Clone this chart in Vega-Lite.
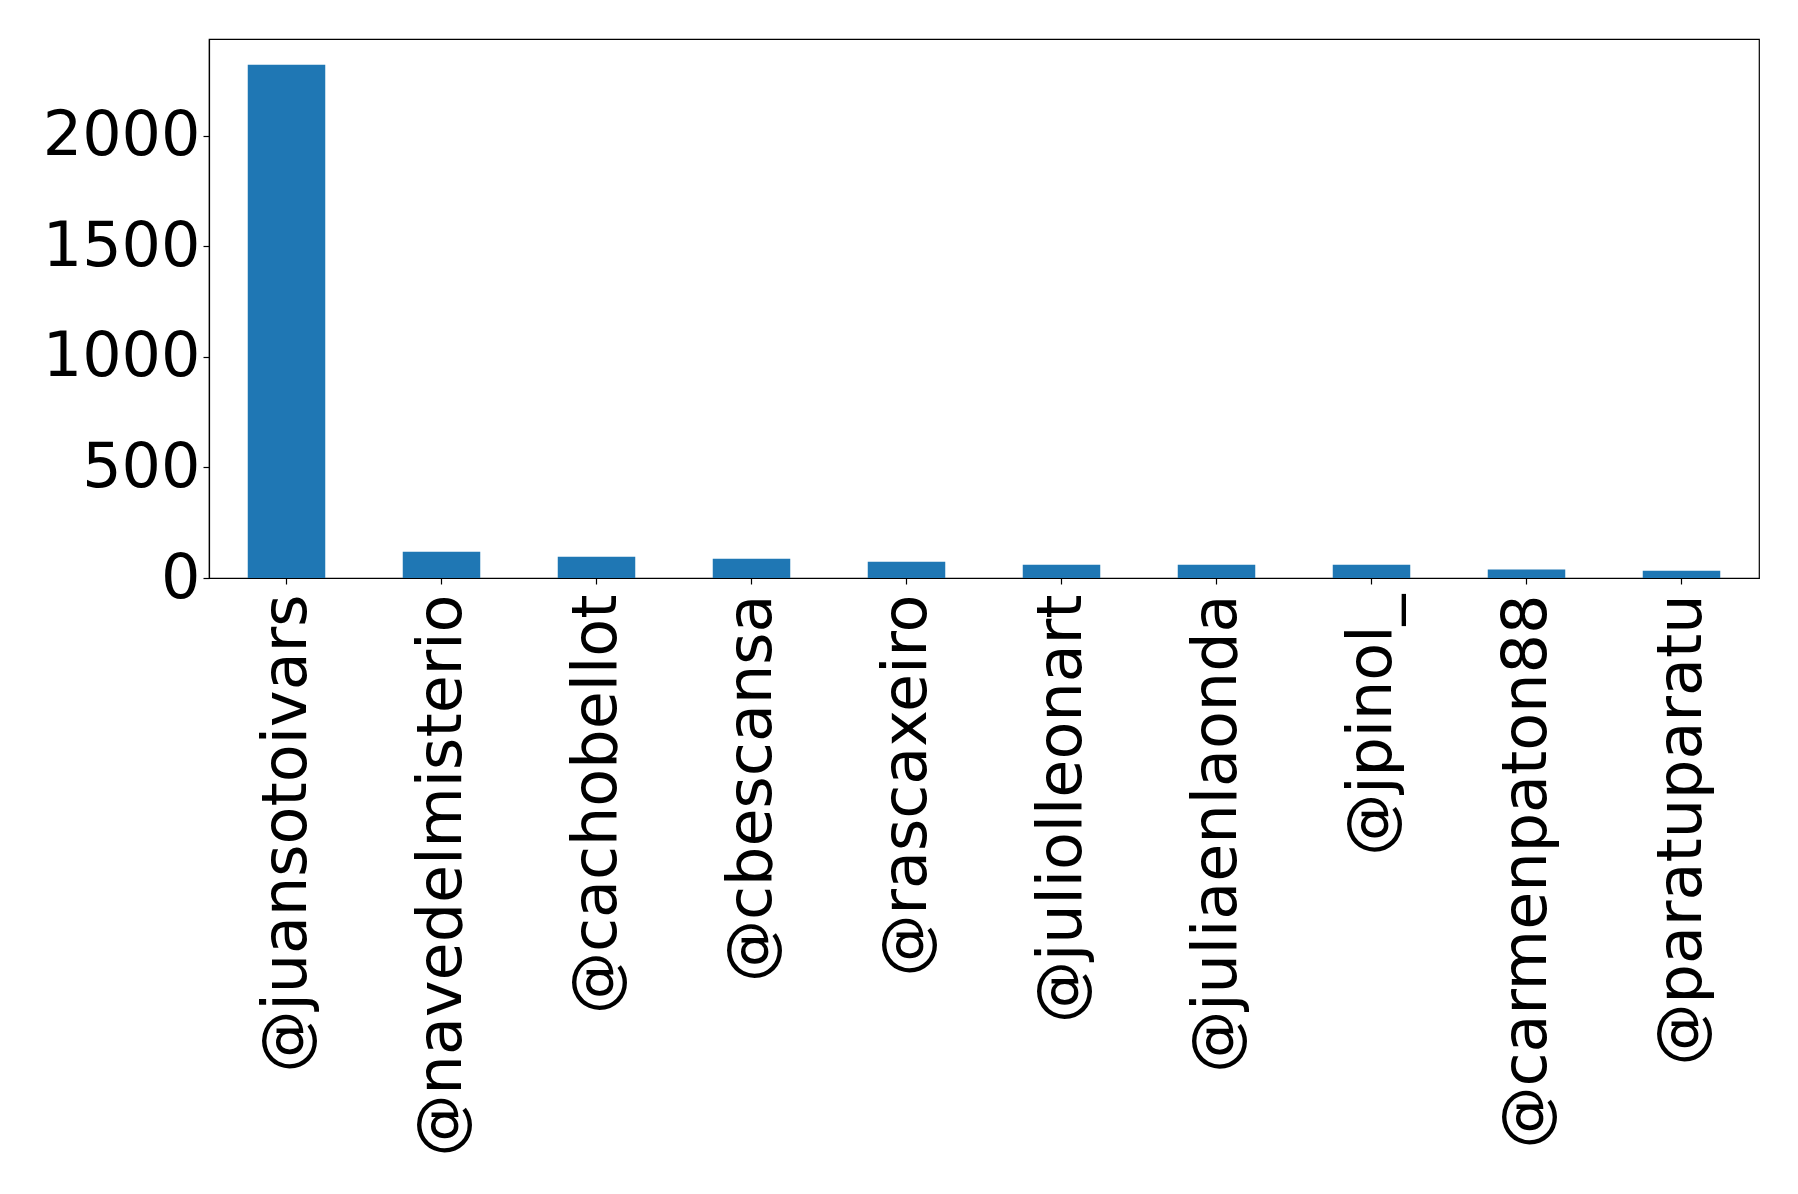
{
  "$schema": "https://vega.github.io/schema/vega-lite/v6.json",
  "autosize": {"type": "none"},
  "padding": {"left": 209, "top": 39, "right": 39, "bottom": 616},
  "width": 1550,
  "height": 539,
  "background": "white",
  "config": {
    "font": "DejaVu Sans",
    "view": {"stroke": "black", "strokeWidth": 1.2},
    "axis": {
      "grid": false,
      "domainColor": "black",
      "domainWidth": 1.2,
      "tickColor": "black",
      "tickWidth": 1.2,
      "tickSize": 6,
      "labelColor": "black",
      "labelFont": "DejaVu Sans",
      "labelFontSize": 62,
      "title": null
    }
  },
  "data": {
    "values": [
      {"user": "@juansotoivars", "count": 2322},
      {"user": "@navedelmisterio", "count": 119},
      {"user": "@cachobellot", "count": 96},
      {"user": "@cbescansa", "count": 87},
      {"user": "@rascaxeiro", "count": 74},
      {"user": "@juliolleonart", "count": 60},
      {"user": "@juliaenlaonda", "count": 60},
      {"user": "@jpinol_", "count": 60},
      {"user": "@carmenpaton88", "count": 38},
      {"user": "@paratuparatu", "count": 33}
    ]
  },
  "mark": {"type": "bar", "color": "#1f77b4"},
  "encoding": {
    "x": {
      "field": "user",
      "type": "nominal",
      "sort": null,
      "scale": {"paddingInner": 0.5, "paddingOuter": 0.25},
      "axis": {"labelAngle": -90, "labelAlign": "right", "labelBaseline": "middle", "labelLimit": 0, "labelPadding": 10}
    },
    "y": {
      "field": "count",
      "type": "quantitative",
      "scale": {"domain": [0, 2438], "nice": false},
      "axis": {"values": [0, 500, 1000, 1500, 2000], "format": "d", "labelLimit": 0, "labelBaseline": "middle", "labelFlush": false, "labelPadding": 3}
    }
  }
}
